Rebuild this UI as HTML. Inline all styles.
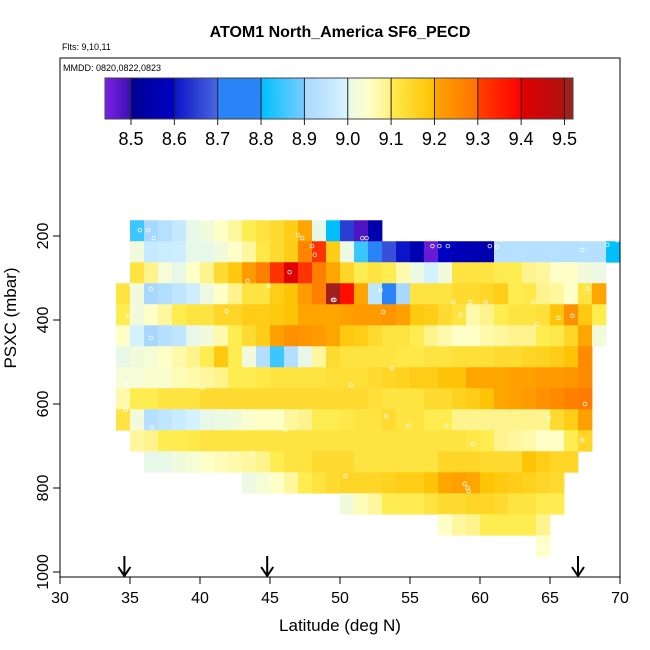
<!DOCTYPE html>
<html><head><meta charset="utf-8"><style>
body{margin:0;background:#fff}
svg{display:block;font-family:"Liberation Sans",sans-serif}
</style></head><body>
<svg id="chart" width="650" height="650" viewBox="0 0 650 650">
<rect width="650" height="650" fill="#fff"/>
<text x="340" y="37" text-anchor="middle" font-size="16" font-weight="bold">ATOM1 North_America SF6_PECD</text>
<text x="62" y="50" font-size="9">Flts: 9,10,11</text>
<g id="cells"></g>
<g id="points"></g>
<g id="cbar"></g>
<text x="63" y="71" font-size="9">MMDD: 0820,0822,0823</text>
<rect x="60" y="58" width="560" height="519" fill="none" stroke="#000" stroke-width="1"/>
<g id="xaxis"></g>
<g id="yaxis"></g>
<g id="arrows"></g>
<text x="340" y="631" text-anchor="middle" font-size="17">Latitude (deg N)</text>
<text transform="translate(16,318) rotate(-90)" text-anchor="middle" font-size="17">PSXC (mbar)</text>
</svg>
<script>
const rowPressures=[187.5,237.5,287.5,337.5,387.5,437.5,487.5,537.5,587.5,637.5,687.5,737.5,787.5,837.5,887.5,937.5];
const rowStartLat=[35,35,35,34,34,34,34,34,34,34,35,36,43,50,57,64];
const row0=[8.85,8.9,8.93,8.96,9.0,9.02,9.05,9.08,9.1,9.12,9.14,9.17,9.2,9.0,8.8,8.65,8.48,8.55];
const row1=[9.02,8.96,8.97,8.98,9.0,9.0,9.02,9.05,9.08,9.11,9.14,9.17,9.26,9.32,9.17,9.01,8.85,8.72,8.67,8.6,8.56,8.46,8.59,8.57,8.56,8.55,8.93,8.93,8.93,8.93,8.93,8.93,8.93,8.93,8.8];
const row2=[9.12,9.09,9.03,9.0,9.05,9.09,9.14,9.18,9.22,9.27,9.32,9.4,9.32,9.27,9.2,9.15,9.1,9.12,9.1,9.07,9.01,8.99,9.02,9.12,9.12,9.12,9.1,9.1,9.09,9.08,9.05,9.05,9.02,9.01];
const row3=[9.12,9.02,8.9,8.92,8.95,8.98,9.01,9.05,9.09,9.12,9.12,9.17,9.19,9.22,9.27,9.5,9.38,9.2,8.95,8.75,8.9,9.12,9.12,9.12,9.14,9.14,9.15,9.17,9.1,9.11,9.09,9.08,9.05,9.12,9.2];
const row4=[9.1,9.02,9.05,9.08,9.1,9.12,9.12,9.15,9.15,9.17,9.17,9.18,9.19,9.2,9.2,9.2,9.21,9.22,9.22,9.23,9.21,9.18,9.17,9.14,9.12,9.07,9.09,9.1,9.12,9.12,9.13,9.19,9.24,9.18,9.1];
const row5=[9.05,8.99,8.9,8.93,8.95,9.0,9.02,9.07,9.1,9.14,9.17,9.21,9.24,9.23,9.22,9.2,9.18,9.17,9.14,9.12,9.12,9.1,9.09,9.07,9.05,9.05,9.07,9.08,9.09,9.09,9.1,9.11,9.15,9.2,9.02];
const row6=[9.0,9.02,9.03,9.05,9.07,9.09,9.1,9.18,9.1,9.02,8.92,8.85,8.92,9.0,9.08,9.14,9.12,9.12,9.12,9.12,9.11,9.11,9.12,9.12,9.13,9.13,9.13,9.14,9.14,9.15,9.16,9.17,9.19,9.25];
const row7=[9.03,9.03,9.04,9.04,9.06,9.07,9.08,9.09,9.1,9.1,9.11,9.12,9.12,9.12,9.12,9.13,9.13,9.13,9.14,9.15,9.16,9.17,9.17,9.19,9.19,9.2,9.2,9.2,9.21,9.21,9.22,9.22,9.23,9.25];
const row8=[9.07,9.1,9.1,9.12,9.12,9.12,9.14,9.14,9.14,9.14,9.14,9.14,9.14,9.14,9.14,9.14,9.14,9.14,9.13,9.12,9.12,9.12,9.14,9.14,9.16,9.17,9.19,9.2,9.21,9.22,9.24,9.25,9.27,9.28];
const row9=[9.12,9.02,8.93,8.95,8.97,8.99,9.0,9.01,9.02,9.04,9.05,9.05,9.08,9.09,9.1,9.1,9.11,9.12,9.12,9.14,9.12,9.12,9.1,9.1,9.09,9.09,9.09,9.09,9.09,9.09,9.09,9.14,9.17,9.21];
const row10=[9.08,9.09,9.1,9.1,9.11,9.12,9.12,9.12,9.12,9.12,9.12,9.12,9.12,9.12,9.12,9.12,9.12,9.12,9.12,9.12,9.12,9.12,9.12,9.12,9.11,9.1,9.09,9.08,9.07,9.05,9.05,9.1,9.15];
const row11=[9.0,9.0,9.02,9.03,9.05,9.06,9.07,9.08,9.09,9.1,9.12,9.12,9.14,9.14,9.14,9.12,9.12,9.12,9.12,9.12,9.12,9.15,9.15,9.15,9.14,9.14,9.14,9.19,9.17,9.15,9.15];
const row12=[9.01,9.03,9.05,9.08,9.1,9.12,9.14,9.15,9.15,9.15,9.16,9.17,9.17,9.19,9.2,9.21,9.2,9.19,9.18,9.17,9.16,9.15,9.14];
const row13=[9.02,9.06,9.08,9.1,9.1,9.1,9.12,9.14,9.14,9.15,9.15,9.14,9.12,9.12,9.1,9.1];
const row14=[9.05,9.08,9.09,9.1,9.1,9.1,9.1,9.09];
const row15=[9.05];
const rows=[row0,row1,row2,row3,row4,row5,row6,row7,row8,row9,row10,row11,row12,row13,row14,row15];
const ptLat=[35.7,36.3,36.7,35.1,34.9,36.5,36.5,35.2,36.6,34.7,34.7,41.9,43.4,44.9,46.4,48,48.2,47,47.3,49.5,49.6,51.6,51.9,52.9,53.1,56.6,57.1,57.7,60.7,61.2,67.3,69.1,69.8,58.1,59.3,60.4,63.8,66.3,66.6,67.7,64.1,65.6,58.6,53.7,50.8,53.3,54.9,57.6,59.5,58.9,59.1,59.2,50.4,67.5,67.3,64.9,64.6,40.2,46.1,43.7,42.5];
const ptP=[186,186,205,317,390,443,326,364,655,614,550,379,307,319,286,224,245,198,205,352,352,205,205,329,381,224,224,224,224,226,233,221,210,357,357,357,357,357,390,326,410,395,388,514,555,629,652,652,695,790,800,807,771,600,686,633,943,562,662,717,719];
const xTicks=[30,35,40,45,50,55,60,65,70];
const yTicks=[200,400,600,800,1000];
const cbarTicks=[8.5,8.6,8.7,8.8,8.9,9.0,9.1,9.2,9.3,9.4,9.5];
const arrowLats=[34.6,44.8,67.0];

const NS='http://www.w3.org/2000/svg';
const xS=l=>60+14*(l-30);
const yS=p=>152+0.42*p;
const cS=v=>131+(v-8.5)*433.5;
const stops=[[8.44,'#7f20e8'],[8.4999,'#3810b0'],[8.5,'#000090'],[8.5999,'#0000c8'],[8.6,'#0a14c8'],[8.6999,'#4a68e0'],[8.7,'#2a84f8'],[8.7999,'#2a84f8'],[8.8,'#00bfff'],[8.8999,'#78ccff'],[8.9,'#a8d8ff'],[8.9999,'#d8f4ff'],[9.0,'#e8f8e8'],[9.05,'#ffffc8'],[9.0999,'#fff080'],[9.1,'#ffec50'],[9.1999,'#ffc000'],[9.2,'#ffa500'],[9.2999,'#ff7000'],[9.3,'#ff4000'],[9.3999,'#ff0000'],[9.4,'#e00000'],[9.4999,'#b01010'],[9.5,'#a02020']];
function hx(c){return [1,3,5].map(i=>parseInt(c.substr(i,2),16));}
function col(v){
  if(v<=stops[0][0])return stops[0][1];
  for(let i=1;i<stops.length;i++){
    if(v<stops[i][0]){const a=hx(stops[i-1][1]),b=hx(stops[i][1]);const t=(v-stops[i-1][0])/(stops[i][0]-stops[i-1][0]);
      return 'rgb('+a.map((x,k)=>Math.round(x+(b[k]-x)*t)).join(',')+')';}
  }
  return stops[stops.length-1][1];
}
function mk(tag,attrs,parent){const e=document.createElementNS(NS,tag);for(const k in attrs)e.setAttribute(k,attrs[k]);parent.appendChild(e);return e;}

const cells=document.getElementById('cells');
rows.forEach((vals,r)=>{
  const p=rowPressures[r];
  vals.forEach((v,i)=>{
    const lat=rowStartLat[r]+i;
    const e=mk('rect',{x:xS(lat),y:yS(p-25),width:14.4,height:21.4,fill:col(v)},cells);
    
    
  });
});
const pts=document.getElementById('points');
ptLat.forEach((l,i)=>{
  const e=mk('circle',{cx:xS(l),cy:yS(ptP[i]),r:1.8,fill:'none',stroke:'#fff','stroke-width':0.9,opacity:0.85},pts);
  
  
});
const cb=document.getElementById('cbar');
for(let x=105;x<573;x+=1){
  const v=8.5+(x+0.5-131)/433.5;
  const e=mk('rect',{x:x,y:78,width:1.2,height:41,fill:col(v)},cb);
  
  
}
const cbf=mk('rect',{x:105,y:78,width:468,height:41,fill:'none',stroke:'#444','stroke-width':1},cb);


cbarTicks.forEach(t=>{
  const x=cS(t);
  const l=mk('line',{x1:x,x2:x,y1:78,y2:125,stroke:'#222','stroke-width':1},cb);
  
  
  const tx=mk('text',{x:x,y:145,'text-anchor':'middle','font-size':18},cb);
  tx.textContent=t.toFixed(1);
  
  
});
const xa=document.getElementById('xaxis');
xTicks.forEach(t=>{
  const x=xS(t);
  const l=mk('line',{x1:x,x2:x,y1:577,y2:584,stroke:'#000'},xa);
  
  
  const tx=mk('text',{x:x,y:603,'text-anchor':'middle','font-size':16},xa);
  tx.textContent=t;
  
  
});
const ya=document.getElementById('yaxis');
yTicks.forEach(t=>{
  const y=yS(t);
  const l=mk('line',{x1:53,x2:60,y1:y,y2:y,stroke:'#000'},ya);
  
  
  const tx=mk('text',{transform:'translate(48,'+y+') rotate(-90)','text-anchor':'middle','font-size':16},ya);
  tx.textContent=t;
  
  
});
const ar=document.getElementById('arrows');
arrowLats.forEach(l=>{
  const x=xS(l);
  const p=mk('path',{d:'M'+x+' 556 L'+x+' 576 M'+(x-6)+' 567 L'+x+' 576 L'+(x+6)+' 567',stroke:'#000','stroke-width':2,fill:'none'},ar);
  
  
});
</script>
</body></html>
